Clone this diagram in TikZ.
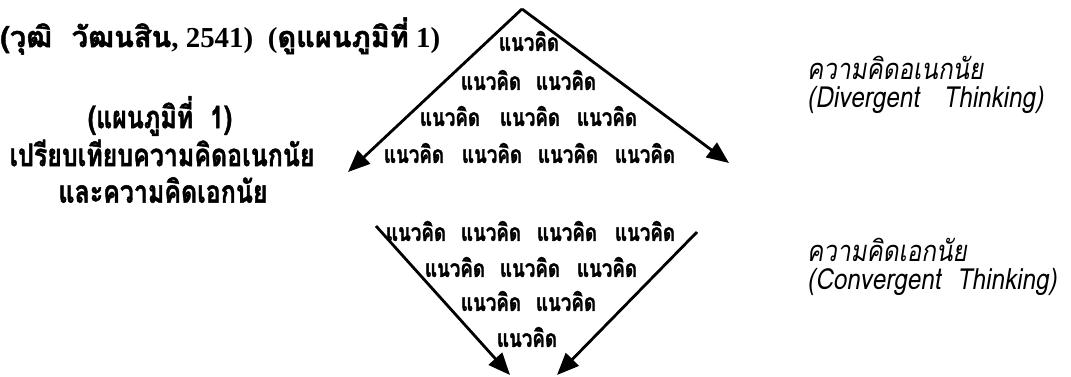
\documentclass[tikz,border=0pt]{standalone}
\usepackage{graphicx}
\usepackage{fontspec}
\setmainfont{Liberation Serif}
\newfontfamily\thaifont[Script=Thai]{Loma}
\newfontfamily\thaiheavy[Script=Thai,FakeBold=1.5]{Loma Bold}
\newfontfamily\thaislant[Script=Thai,FakeSlant=0.2]{Loma}
\usetikzlibrary{arrows.meta}
% text squeezed to a given width
\newcommand{\fitw}[2]{\resizebox{#1}{!}{#2}}
\newcommand{\idea}{\scalebox{1}[1.3]{\fitw{60pt}{\thaiheavy แนวคิด}}}
\newlength{\wcap}
\newlength{\wnote}
\begin{document}
% common scale of the caption and of the notes
\settowidth{\wcap}{\thaiheavy เปรียบเทียบความคิดอเนกนัย}
\pgfmathsetmacro{\capk}{305pt/\wcap}
\pgfmathsetmacro{\capv}{1.25*\capk}
\settowidth{\wnote}{\thaislant (Divergent\ \ \ Thinking)}
\pgfmathsetmacro{\notek}{236pt/\wnote}
\pgfmathsetmacro{\notev}{1.2*\notek}
\begin{tikzpicture}[x=1pt,y=-1pt,>={Triangle[length=22pt,width=18pt]},line join=round,
	word/.style={inner sep=0pt},
	note/.style={anchor=west,inner sep=0pt},
	flow/.style={->,line width=2.8pt}]
	\useasboundingbox (0,0) rectangle (1071,376);
	% source line
	\node[anchor=west,inner sep=0pt,font=\bfseries] (src) at (0,36) {\fitw{440pt}{{\thaiheavy (วุฒิ\ \ วัฒนสิน}, 2541) \ ({\thaiheavy ดูแผนภูมิที่} 1)}};
	% caption
	\node[word] (cap1) at (160,116) {\scalebox{\capk}[\capv]{\thaiheavy (แผนภูมิที่\ \ 1)}};
	\node[word] (cap2) at (162,153) {\scalebox{\capk}[\capv]{\thaiheavy เปรียบเทียบความคิดอเนกนัย}};
	\node[word] (cap3) at (163,190) {\scalebox{\capk}[\capv]{\thaiheavy และความคิดเอกนัย}};
	% divergent
	\coordinate (top) at (522,9);
	\coordinate (dl) at (348,172);
	\coordinate (dr) at (729,163);
	\draw[flow] (top)--(dl);
	\draw[flow] (top)--(dr);
	\node[word] (d1-1) at (529,41) {\idea};
	\foreach \x [count=\i] in {491,566} \node[word] (d2-\i) at (\x,80) {\idea};
	\foreach \x [count=\i] in {450,530,607} \node[word] (d3-\i) at (\x,116) {\idea};
	\foreach \x [count=\i] in {414,492,568,645} \node[word] (d4-\i) at (\x,153) {\idea};
	% convergent
	\coordinate (cl) at (376,226);
	\coordinate (cr) at (697,232);
	\coordinate (el) at (510,375);
	\coordinate (er) at (557,375);
	\draw[flow] (cl)--(el);
	\draw[flow] (cr)--(er);
	\foreach \x [count=\i] in {416,491,567,645} \node[word] (c1-\i) at (\x,231) {\idea};
	\foreach \x [count=\i] in {455,530,607} \node[word] (c2-\i) at (\x,267) {\idea};
	\foreach \x [count=\i] in {491,566} \node[word] (c3-\i) at (\x,301) {\idea};
	\node[word] (c4-1) at (527,337) {\idea};
	% notes
	\node[note] (dth) at (807,68) {\scalebox{\notek}[\notev]{\thaislant ความคิดอเนกนัย}};
	\node[note] (den) at (807,100) {\scalebox{\notek}[\notev]{\thaislant (Divergent\ \ \ Thinking)}};
	\node[note] (cth) at (807,250) {\scalebox{\notek}[\notev]{\thaislant ความคิดเอกนัย}};
	\node[note] (cen) at (807,282) {\scalebox{\notek}[\notev]{\thaislant (Convergent\ \ Thinking)}};
\end{tikzpicture}
\end{document}
